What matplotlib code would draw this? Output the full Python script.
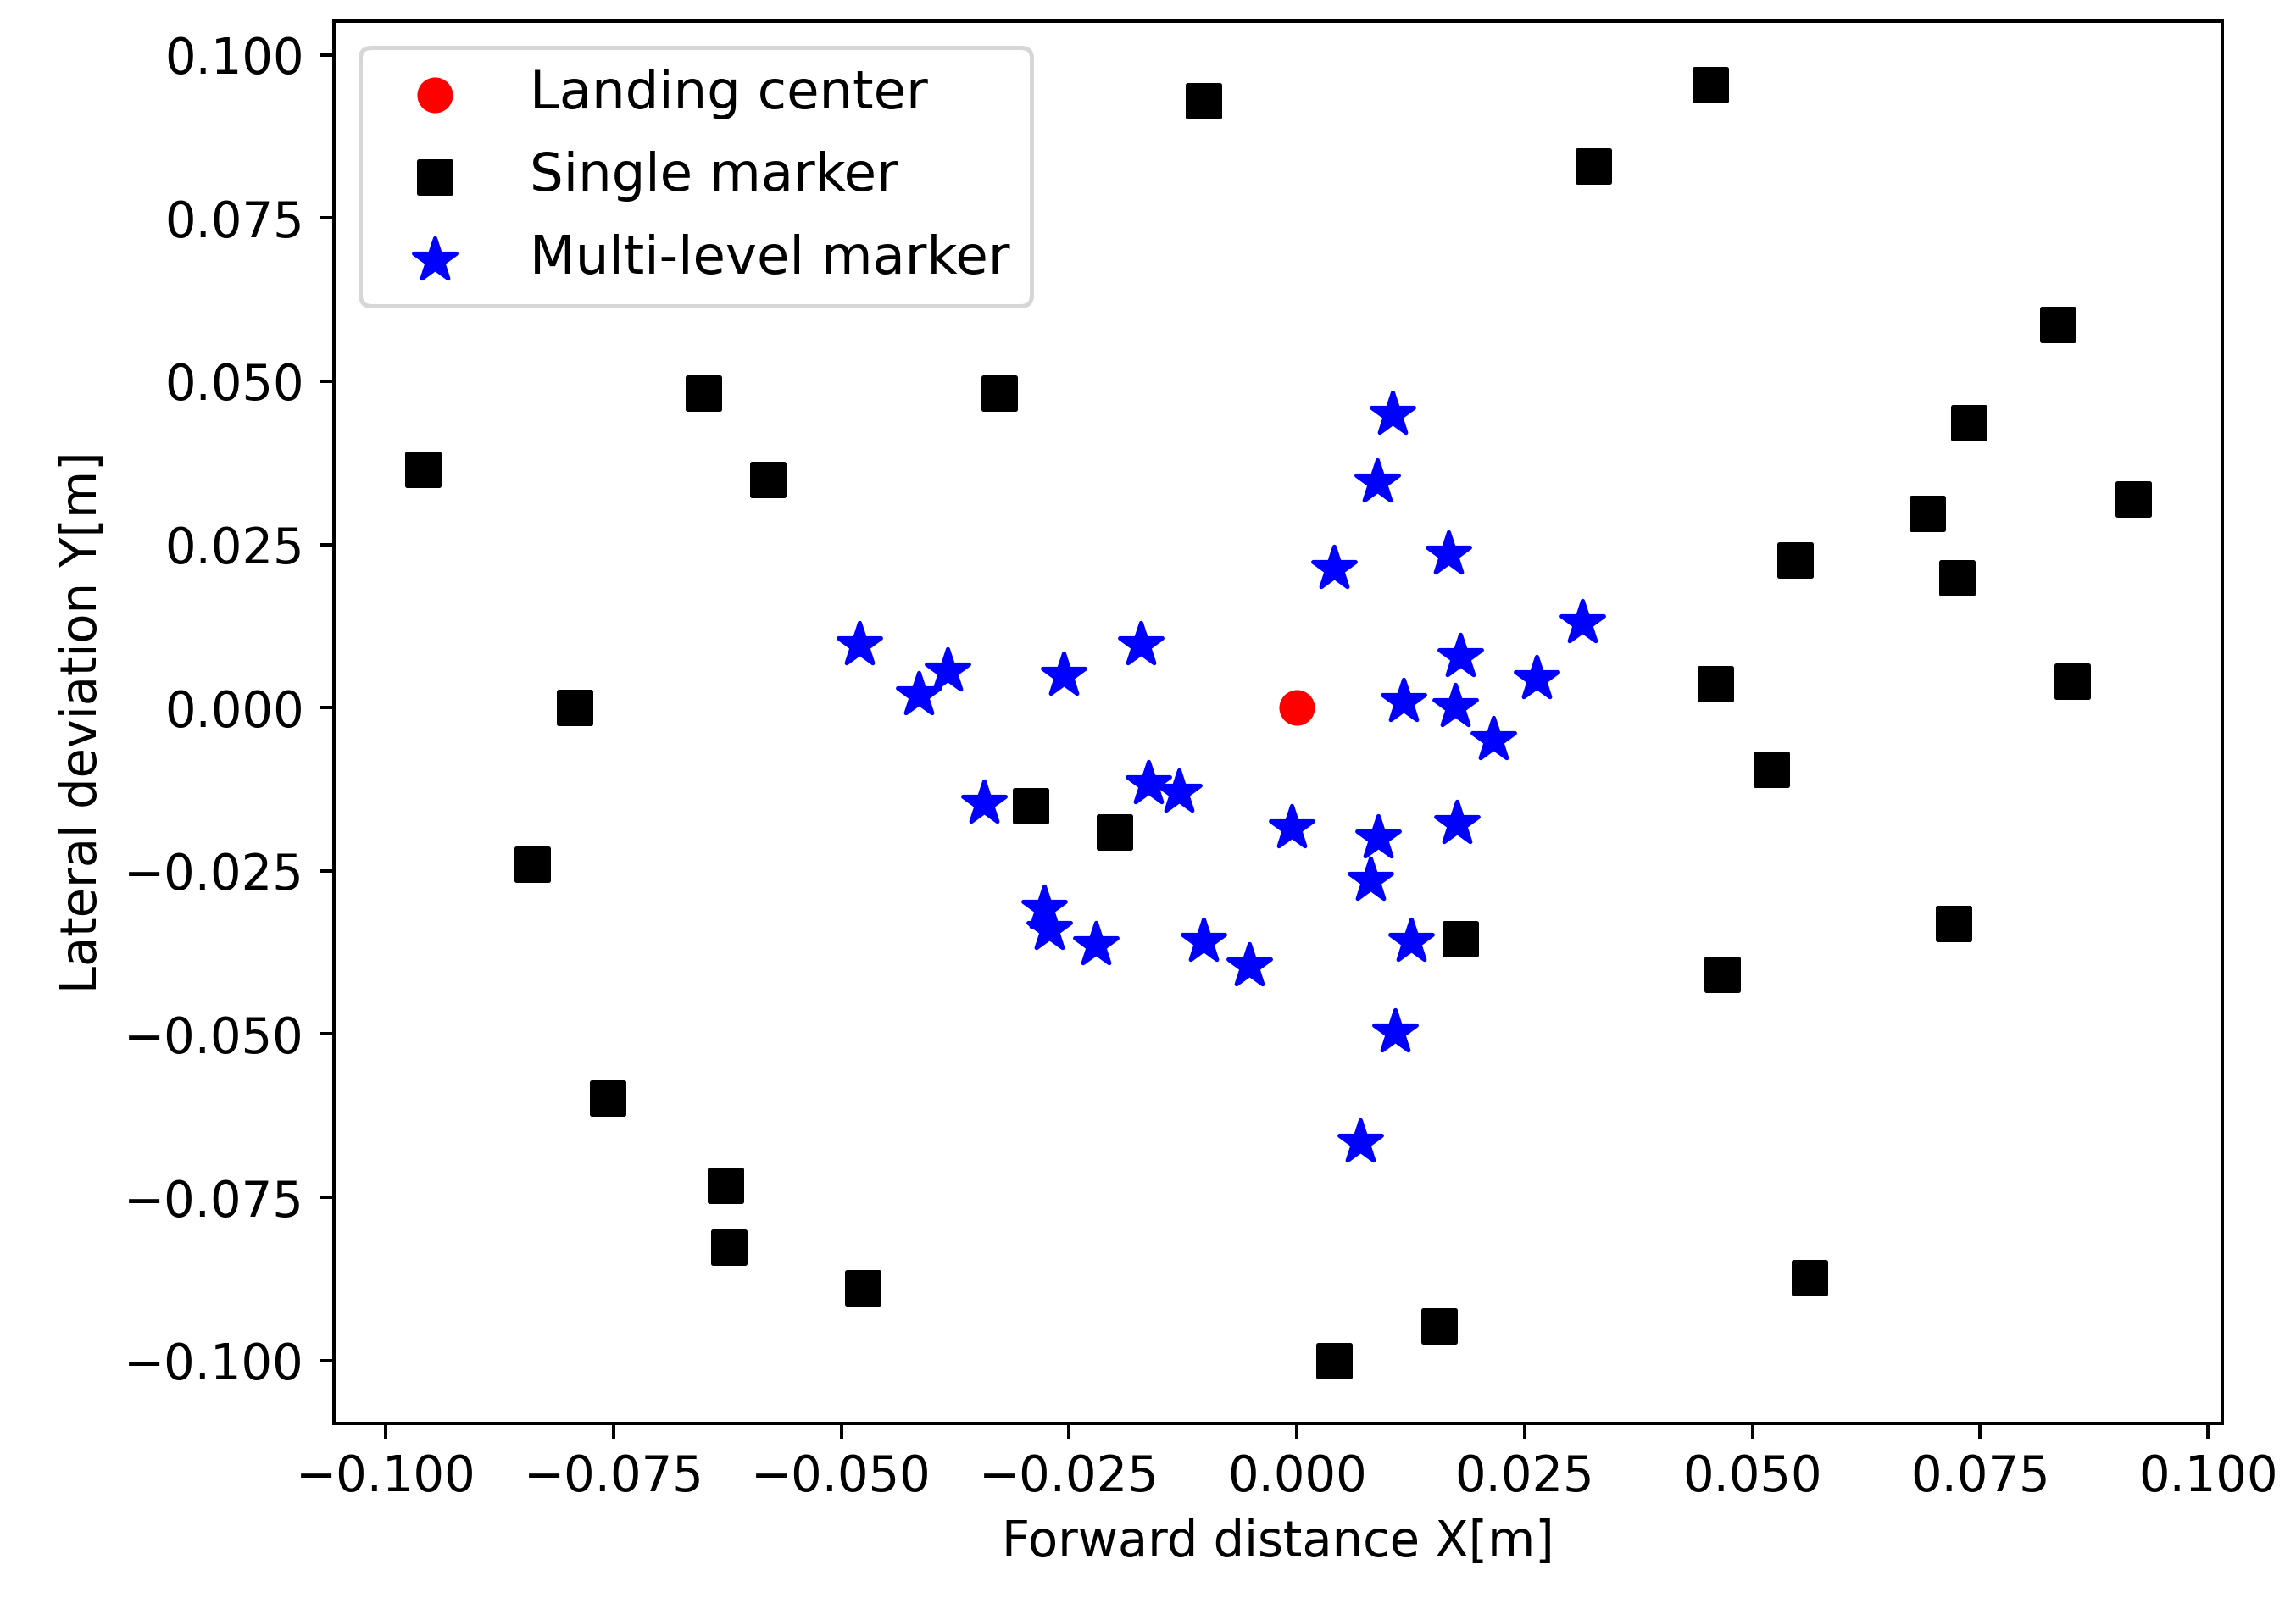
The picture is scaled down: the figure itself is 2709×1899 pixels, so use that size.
import matplotlib
matplotlib.use("Agg")
import matplotlib.pyplot as plt

center_x = [0.0]
center_y = [0.0]
single_x = [-0.0102, 0.0454, 0.0325, 0.0835, 0.0738, 0.0918, 0.0692, 0.0547, 0.0725, 0.0459,
            0.0851, 0.0521, 0.0721, 0.0467, 0.0563, 0.0156, 0.0041, 0.0179, -0.0200, -0.0292,
            -0.0327, -0.0651, -0.0581, -0.0959, -0.0793, -0.0839, -0.0756, -0.0627, -0.0623, -0.0476]
single_y = [0.0930, 0.0954, 0.0830, 0.0587, 0.0437, 0.0320, 0.0298, 0.0226, 0.0199, 0.0036,
            0.0040, -0.0094, -0.0331, -0.0408, -0.0873, -0.0947, -0.1001, -0.0354, -0.0190, -0.0150,
            0.0482, 0.0482, 0.0349, 0.0365, 0.0000, -0.0240, -0.0598, -0.0732, -0.0826, -0.0889]
multi_x = [0.0105, 0.0088, 0.0041, 0.0166, 0.0313, 0.0179, 0.0263, 0.0117, 0.0174, 0.0216,
           0.0176, -0.0006, 0.0089, 0.0081, 0.0125, 0.0108, 0.0070, -0.0052, -0.0102, -0.0221,
           -0.0272, -0.0277, -0.0343, -0.0163, -0.0129, -0.0171, -0.0256, -0.0383, -0.0415, -0.0480]
multi_y = [0.0450, 0.0345, 0.0213, 0.0235, 0.0130, 0.0078, 0.0045, 0.0009, 0.0002, -0.0049,
           -0.0177, -0.0184, -0.0199, -0.0264, -0.0358, -0.0497, -0.0665, -0.0396, -0.0358, -0.0363,
           -0.0340, -0.0307, -0.0146, -0.0116, -0.0130, 0.0096, 0.0049, 0.0056, 0.0020, 0.0096]

plt.rcParams['font.size'] = 11.5
fig = plt.figure(figsize=(2709/360, 1899/360), dpi=360)
ax = fig.add_axes([0.1454, 0.1155, 0.8226, 0.8715])
ax.scatter(center_x, center_y, c='red', marker='o', s=55, label='Landing center', zorder=3)
ax.scatter(single_x, single_y, c='black', marker='s', s=55, label='Single marker', zorder=3)
ax.scatter(multi_x, multi_y, c='blue', marker='*', s=110, label='Multi-level marker', zorder=3)
ax.set_xlim(-0.1057, 0.1016)
ax.set_ylim(-0.1096, 0.1052)
ticks = [-0.1, -0.075, -0.05, -0.025, 0.0, 0.025, 0.05, 0.075, 0.1]
ax.set_xticks(ticks)
ax.set_yticks(ticks)
ax.set_xticklabels([f"{t:.3f}".replace('-', '\u2212') for t in ticks])
ax.set_yticklabels([f"{t:.3f}".replace('-', '\u2212') for t in ticks])
ax.set_xlabel('Forward distance X[m]')
ax.set_ylabel('Lateral deviation Y[m]')
ax.legend(loc='upper left', fontsize=12.5, labelspacing=0.6)
fig.savefig('out.png', dpi=360)
